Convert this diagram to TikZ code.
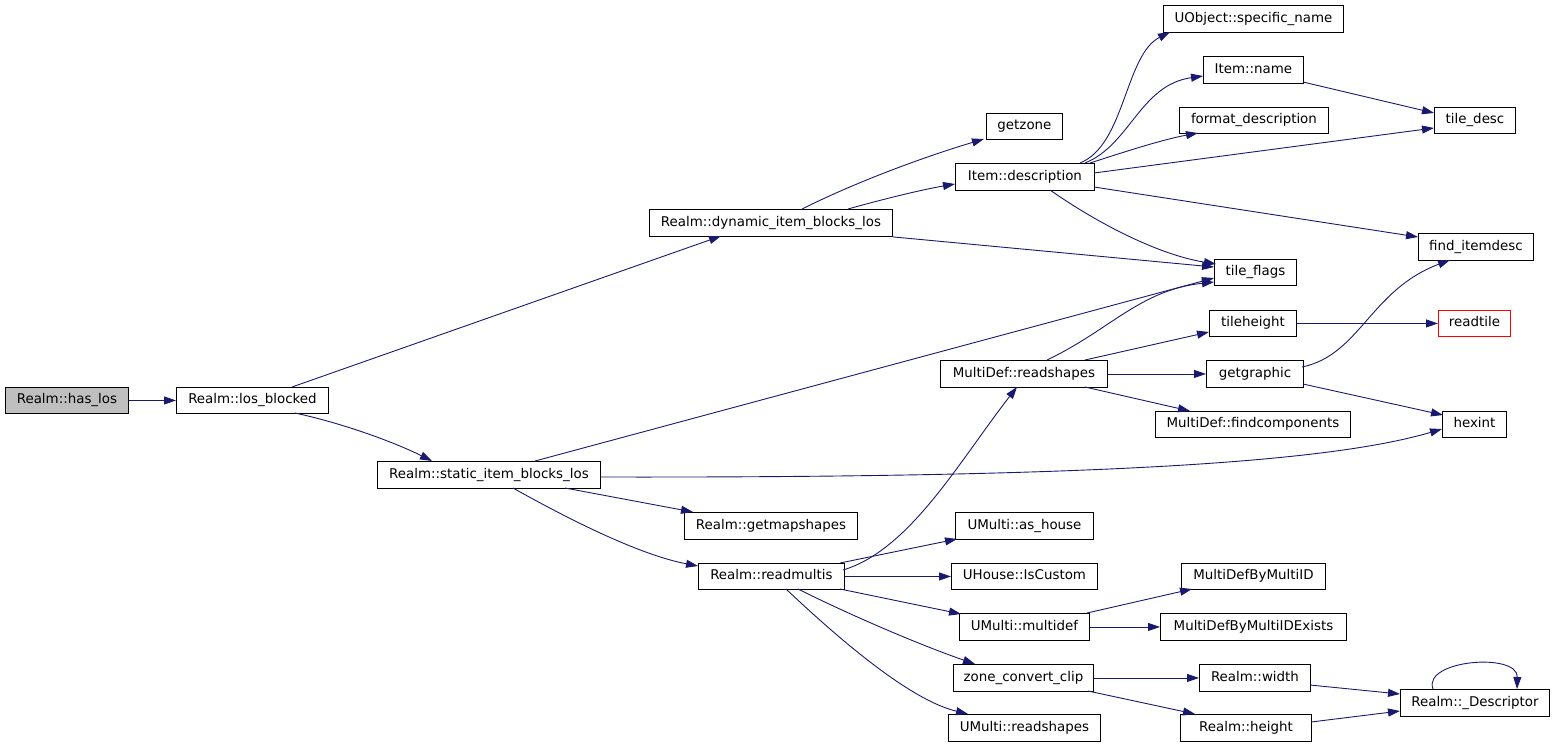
\documentclass[tikz,border=0pt]{standalone}
\usepackage{fontspec}
\setmainfont{DejaVu Sans}
\usetikzlibrary{arrows.meta,calc}
\definecolor{edgecol}{HTML}{191970}
\definecolor{rootfill}{HTML}{BFBFBF}
\newcommand\mybox[7][]{\node[box,#1,minimum width={#5-#3},minimum height={#6-#4}] (#2) at (#3,#4) {#7};}
\newcommand\rp[3]{($(#1.north west)+(#2,#3)$)}
\begin{document}
\begin{tikzpicture}[x=1pt,y=-1pt,
  box/.style={draw=black,line width=0.9pt,anchor=north west,inner sep=0pt,
    text height=10pt,text depth=3pt,font=\fontsize{13.4}{15}\selectfont},
  e/.style={draw=edgecol,line width=0.9pt,-{Triangle[length=12pt,width=8pt]}}]
\useasboundingbox (0,0) rectangle (1555,747);
% nodes
\mybox[fill=rootfill]{has}{5}{387}{128}{413}{Realm::has\_los}
\mybox{losb}{176}{387}{328}{413}{Realm::los\_blocked}
\mybox{dyn}{649}{209}{892}{236}{Realm::dynamic\_item\_blocks\_los}
\mybox{stat}{377}{461}{600}{488}{Realm::static\_item\_blocks\_los}
\mybox{getzone}{986}{113}{1062}{139}{getzone}
\mybox{desc}{955}{163}{1094}{190}{Item::description}
\mybox{uobj}{1163}{5}{1343}{32}{UObject::specific\_name}
\mybox{iname}{1203}{56}{1303}{83}{Item::name}
\mybox{fmt}{1179}{107}{1328}{133}{format\_description}
\mybox{tdesc}{1434}{107}{1515}{133}{tile\_desc}
\mybox{find}{1418}{233}{1533}{260}{find\_itemdesc}
\mybox{tflags}{1214}{259}{1296}{285}{tile\_flags}
\mybox{theight}{1209}{310}{1296}{336}{tileheight}
\mybox[draw=red]{readtile}{1438}{310}{1510}{336}{readtile}
\mybox{mdrs}{940}{360}{1107}{387}{MultiDef::readshapes}
\mybox{getg}{1206}{360}{1303}{387}{getgraphic}
\mybox{hexint}{1442}{411}{1506}{437}{hexint}
\mybox{findc}{1155}{411}{1350}{437}{MultiDef::findcomponents}
\mybox{getmap}{684}{512}{857}{539}{Realm::getmapshapes}
\mybox{rmulti}{698}{563}{844}{589}{Realm::readmultis}
\mybox{ashouse}{955}{512}{1093}{539}{UMulti::as\_house}
\mybox{iscustom}{951}{563}{1097}{589}{UHouse::IsCustom}
\mybox{multidef}{959}{613}{1089}{640}{UMulti::multidef}
\mybox{mdbid}{1181}{563}{1325}{589}{MultiDefByMultiID}
\mybox{mdbidx}{1160}{613}{1346}{640}{MultiDefByMultiIDExists}
\mybox{zcc}{953}{664}{1093}{691}{zone\_convert\_clip}
\mybox{umrs}{948}{714}{1100}{741}{UMulti::readshapes}
\mybox{rwidth}{1199}{664}{1310}{691}{Realm::width}
\mybox{rheight}{1180}{714}{1311}{741}{Realm::height}
\mybox{rdesc}{1400}{689}{1549}{716}{Realm::\_Descriptor}
% edges
\draw[e] (has.east) -- (losb.west);
\draw[e] \rp{losb}{116}{0} -- \rp{dyn}{72}{27};
\draw[e] \rp{losb}{119}{26} .. controls (350,425) and (400,445) .. \rp{stat}{55}{0};
\draw[e] \rp{dyn}{153}{0} .. controls (860,180) and (930,155) .. \rp{getzone}{-2}{26};
\draw[e] \rp{dyn}{199}{0} .. controls (880,200) and (920,190) .. \rp{desc}{0}{21};
\draw[e] (dyn.south east) -- \rp{tflags}{0}{8};
\draw[e] \rp{desc}{125}{0} .. controls (1125,145) and (1125,55) .. \rp{uobj}{7}{27};
\draw[e] \rp{desc}{130}{0} .. controls (1130,145) and (1140,85) .. \rp{iname}{0}{20};
\draw[e] \rp{desc}{135}{0} .. controls (1115,155) and (1160,140) .. \rp{fmt}{19}{26};
\draw[e] \rp{desc}{139}{10} -- \rp{tdesc}{0}{21};
\draw[e] \rp{desc}{139}{24} -- \rp{find}{0}{4};
\draw[e] \rp{desc}{95}{27} .. controls (1100,225) and (1160,255) .. \rp{tflags}{2}{5};
\draw[e] \rp{iname}{100}{26} -- \rp{tdesc}{0}{6};
\draw[e] \rp{stat}{158}{0} -- \rp{tflags}{0}{19};
\draw[e] \rp{stat}{223}{16} .. controls (1100,478) and (1330,462) .. \rp{hexint}{0}{18};
\draw[e] \rp{stat}{188}{27} -- \rp{getmap}{9}{0};
\draw[e] \rp{stat}{136}{27} .. controls (570,520) and (640,555) .. \rp{rmulti}{0}{3};
\draw[e] \rp{mdrs}{107}{0} .. controls (1110,330) and (1140,290) .. \rp{tflags}{0}{23};
\draw[e] \rp{mdrs}{145}{0} -- \rp{theight}{0}{22};
\draw[e] (mdrs.east) -- (getg.west);
\draw[e] \rp{mdrs}{145}{27} -- \rp{findc}{35}{0};
\draw[e] (theight.east) -- (readtile.west);
\draw[e] \rp{getg}{96}{7} .. controls (1360,355) and (1370,290) .. \rp{find}{32}{27};
\draw[e] \rp{getg}{97}{24} -- \rp{hexint}{1}{4};
\draw[e] \rp{rmulti}{145}{7} .. controls (910,550) and (960,460) .. \rp{mdrs}{77}{27};
\draw[e] \rp{rmulti}{142}{0} -- \rp{ashouse}{2}{27};
\draw[e] (rmulti.east) -- (iscustom.west);
\draw[e] \rp{rmulti}{142}{26} -- \rp{multidef}{2}{1};
\draw[e] \rp{rmulti}{100}{26} .. controls (850,615) and (920,645) .. \rp{zcc}{22}{0};
\draw[e] \rp{rmulti}{88}{26} .. controls (840,640) and (910,700) .. \rp{umrs}{20}{0};
\draw[e] \rp{multidef}{128}{0} -- \rp{mdbid}{11}{26};
\draw[e] (multidef.east) -- (mdbidx.west);
\draw[e] (zcc.east) -- (rwidth.west);
\draw[e] \rp{zcc}{135}{27} -- \rp{rheight}{15}{0};
\draw[e] \rp{rwidth}{111}{21} -- \rp{rdesc}{0}{5};
\draw[e] \rp{rheight}{131}{8} -- \rp{rdesc}{0}{22};
\draw[e] \rp{rdesc}{33}{0} .. controls (1422,660) and (1518,652) .. \rp{rdesc}{117}{0};
\end{tikzpicture}
\end{document}
